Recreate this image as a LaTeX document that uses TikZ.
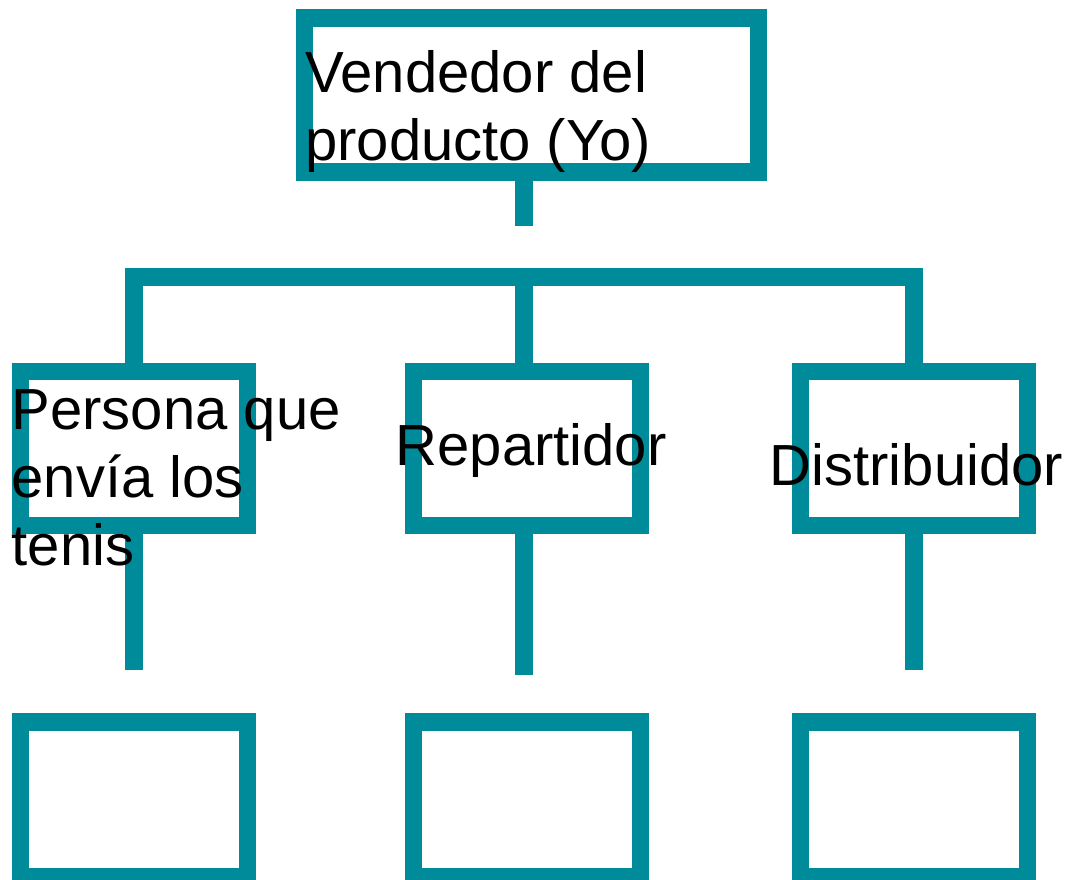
\documentclass[tikz,border=0pt]{standalone}
\usepackage{fontspec}
\setmainfont{Liberation Sans}
\usepackage{xcolor}
\definecolor{tealbox}{RGB}{0,139,155}
\tikzset{
	caja/.style={draw=tealbox, line width=17.5pt, minimum width=227pt, minimum height=154.3pt, inner sep=0pt, outer sep=0pt},
	conn/.style={draw=tealbox, line width=17.5pt},
	etiqueta/.style={anchor=base west, inner sep=0pt, align=left, font=\fontsize{58}{68}\selectfont}
}

\begin{document}
\begin{tikzpicture}[x=1pt, y=-1pt]
				\useasboundingbox (0,0) rectangle (1076,879);
				% cajas
				\node[caja, minimum width=454.4pt] (vend) at (531.5,95) {};
				\node[caja] (pers) at (133.9,448.4) {};
				\node[caja] (rep) at (527,448.4) {};
				\node[caja] (dist) at (914.2,448.4) {};
				\node[caja] (persB) at (133.9,799.3) {};
				\node[caja] (repB) at (527,799.3) {};
				\node[caja] (distB) at (914.2,799.3) {};
				% conectores
				\coordinate (bus) at (524,277);
				\coordinate (stub) at (524,225.7);
				\coordinate (finP) at (133.9,670);
				\coordinate (finR) at (524,675);
				\coordinate (finD) at (914.2,669.5);
				\draw[conn] (vend.south -| stub) -- (stub);
				\draw[conn] (pers.north) -- (pers.north |- bus) -- (dist.north |- bus) -- (dist.north);
				\draw[conn] (bus) -- (rep.north -| bus);
				\draw[conn] (pers.south) -- (finP);
				\draw[conn] (rep.south -| finR) -- (finR);
				\draw[conn] (dist.south) -- (finD);
				% textos (base = ultima linea)
				\node[etiqueta] (tVend) at (305,160) {Vendedor del\\producto (Yo)};
				\node[etiqueta] (tPers) at (11.5,565) {Persona que\\envía los\\tenis};
				\node[etiqueta] (tRep) at (395.5,465) {Repartidor};
				\node[etiqueta] (tDist) at (769.5,485) {Distribuidor};
			\end{tikzpicture}
\end{document}
